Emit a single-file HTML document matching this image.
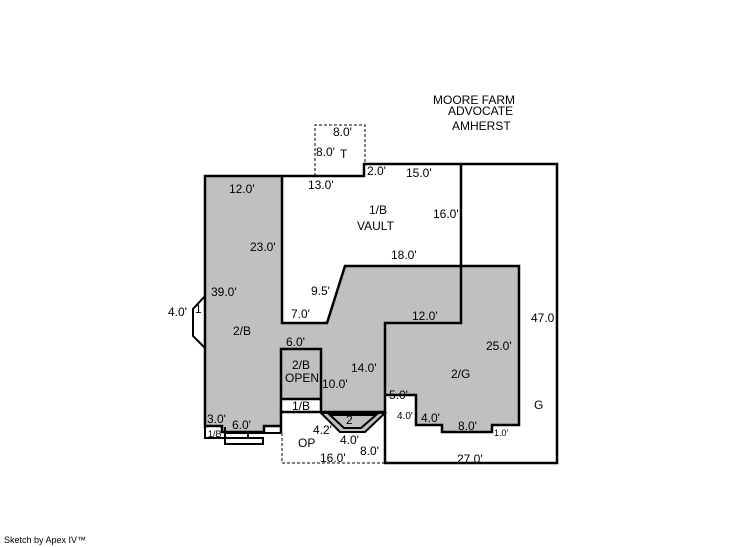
<!DOCTYPE html>
<html><head><style>
html,body{margin:0;padding:0;background:#fff;width:746px;height:547px;overflow:hidden}
svg text{font-family:"Liberation Sans",Arial,sans-serif;font-size:12px;fill:#000}
</style></head><body>
<svg width="746" height="547" viewBox="0 0 746 547" xmlns="http://www.w3.org/2000/svg">
<polygon points="205,176 282,176 282,323 327,323 345,266 519,266 519,425 492,425 492,432 442,432 442,425 416,425 416,395 385,395 385,412 321,412 321,399 281,399 281,426 264,426 264,432 222,432 222,426 205,426" fill="#c0c0c0"/>
<g fill="none" stroke="#000" stroke-width="2.5">
<polyline points="205,428 205,176 282,176 282,323 327,323 345,266 519,266 519,425 492,425 492,432 442,432 442,425 416,425 416,395 385,395"/>
<polyline points="282,176 364,176 364,164 557,164 557,463 385,463 385,323 461,323 461,164"/>
<rect x="281" y="349" width="40" height="63" />
<line x1="281" y1="399" x2="321" y2="399"/>
<line x1="321" y1="412" x2="385" y2="412"/>
<line x1="281" y1="412" x2="281" y2="433"/>
<polyline points="205,426 222,426 222,432 264,432 264,426 281,426"/>
</g>
<g fill="none" stroke="#000" stroke-width="2">
<polyline points="205,426 205,438 225,438 225,433 281,433"/>
<line x1="225" y1="427" x2="225" y2="438"/>
<rect x="225" y="438" width="38" height="6"/>
<line x1="248" y1="434" x2="248" y2="438"/>
<polyline points="205,296 193,309 193,336 205,348"/>
<polygon points="321,413 385,413 365,432 340,432" fill="#c0c0c0"/>
<polygon points="330,415 376,415 361,428 344,428" fill="#c0c0c0"/>
</g>
<g fill="none" stroke="#000" stroke-width="1" stroke-dasharray="3,2">
<polyline points="315,176 315,125 365,125 365,164"/>
<polyline points="282,433 282,463 385,463"/>
</g>
<text x="433" y="104">MOORE FARM</text>
<text x="448" y="115">ADVOCATE</text>
<text x="452" y="130">AMHERST</text>
<text x="333" y="136">8.0'</text>
<text x="316" y="156">8.0'</text><text x="340" y="158">T</text>
<text x="367" y="175">2.0'</text>
<text x="406" y="177">15.0'</text>
<text x="308" y="189">13.0'</text>
<text x="229" y="193">12.0'</text>
<text x="369" y="214">1/B</text>
<text x="357" y="230">VAULT</text>
<text x="433" y="218">16.0'</text>
<text x="250" y="251">23.0'</text>
<text x="391" y="259">18.0'</text>
<text x="211" y="296">39.0'</text>
<text x="311" y="295">9.5'</text>
<text x="168" y="316">4.0'</text><text x="195" y="313">1</text>
<text x="531" y="322">47.0</text>
<text x="291" y="318">7.0'</text>
<text x="412" y="320">12.0'</text>
<text x="233" y="335">2/B</text>
<text x="286" y="346">6.0'</text>
<text x="486" y="350">25.0'</text>
<text x="292" y="369">2/B</text>
<text x="285" y="382">OPEN</text>
<text x="351" y="372">14.0'</text>
<text x="322" y="388">10.0'</text>
<text x="451" y="378">2/G</text>
<text x="389" y="399">5.0'</text>
<text x="534" y="409">G</text>
<text x="292" y="410">1/B</text>
<text x="397" y="419" style="font-size:10px">4.0'</text>
<text x="421" y="422">4.0'</text>
<text x="207" y="423">3.0'</text>
<text x="232" y="429">6.0'</text>
<text x="346" y="424">2</text>
<text x="458" y="430">8.0'</text>
<text x="494" y="436" style="font-size:9px">1.0'</text>
<text x="208" y="437" style="font-size:9px">1/B</text>
<text x="313" y="434">4.2'</text>
<text x="340" y="444">4.0'</text>
<text x="298" y="447">OP</text>
<text x="360" y="455">8.0'</text>
<text x="320" y="462">16.0'</text>
<text x="457" y="463">27.0'</text>
<text x="4" y="543" style="font-size:9px">Sketch by Apex IV™</text>
</svg>
</body></html>
